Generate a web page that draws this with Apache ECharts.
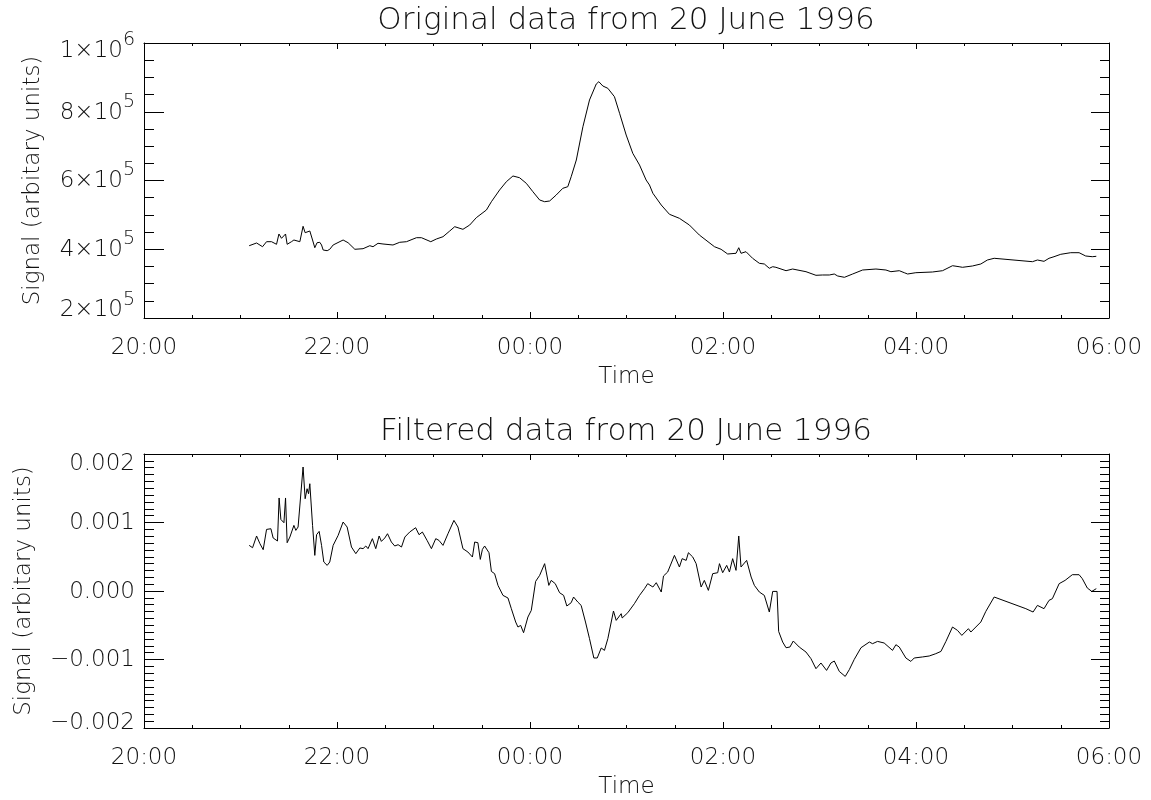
<!DOCTYPE html>
<html>
<head>
<meta charset="utf-8">
<script src="https://cdn.jsdelivr.net/npm/echarts@6/dist/echarts.min.js"></script>
<style>html,body{margin:0;padding:0;background:#fff}#c{width:1151px;height:800px}</style>
</head>
<body>
<div id="c"></div>
<script>
// Time axis: minutes after 20:00 on 20 June 1996
const xTickLabels = ['20:00', '22:00', '00:00', '02:00', '04:00', '06:00'];

const timesTop = [65.4,70.0,73.7,76.2,79.3,82.4,83.9,85.5,86.5,88.0,
89.0,91.7,93.2,94.4,96.9,98.9,100.2,101.4,103.1,104.8,
106.2,107.6,109.3,110.4,111.4,113.9,115.5,117.6,123.8,126.9,
131.1,136.2,140.4,142.4,145.5,148.6,154.8,159.0,163.2,169.4,
172.5,178.3,181.8,185.9,190.1,193.2,198.3,202.5,206.6,212.9,
216.0,221.1,225.3,229.4,233.5,237.7,241.8,246.0,249.1,252.2,
256.3,260.4,263.5,265.6,268.8,272.9,277.0,281.2,282.8,285.3,
288.4,292.5,295.7,299.8,303.9,308.1,312.2,314.3,316.4,321.6,
326.7,332.9,339.1,345.3,354.7,358.8,362.9,368.1,369.8,371.2,
374.3,378.4,382.6,385.7,388.8,390.9,392.9,399.2,403.3,411.6,
417.8,421.9,426.1,429.2,431.3,435.5,440.6,446.8,455.1,461.3,
464.4,469.6,472.7,474.8,479.9,490.2,496.5,502.7,506.8,508.9,
515.1,520.3,524.4,528.6,552.4,555.5,559.6,562.7,565.8,570.0,
576.2,581.4,585.5,589.6,592.1];

const signalTop = [410300,418200,407400,422000,422000,414400,444400,431800,429800,444400,
414400,422000,426900,422000,422000,466800,448100,453100,453100,426900,
404500,419000,420200,412400,397800,395800,399900,412400,426900,419000,
399900,401600,410300,407400,417300,415300,412400,420200,422000,433600,
433600,422000,429800,436500,453100,465600,458000,470500,491800,514200,
538300,572400,596500,613100,608100,591800,567400,543300,538300,540400,
557800,577300,582000,611000,659600,756500,834200,880700,887400,874900,
868200,843800,795500,732300,679100,645100,601400,586900,562800,528700,
501700,490000,470500,441400,407400,399900,386200,388200,404500,388200,
392900,373700,359100,357100,344600,349200,347500,337600,342500,334700,
324200,325100,325100,328000,322200,318400,328000,339600,342500,339600,
334700,337600,331800,328000,331800,333800,337600,352100,349200,347500,
351300,357100,368700,373700,363800,368700,364900,373700,378300,385300,
390000,390000,380400,378300,379500];

const timesFilt = [65.4,67.5,70.0,72.1,74.1,76.2,78.9,80.3,83.0,84.0,
85.1,87.0,88.0,89.0,90.7,93.2,94.4,95.8,96.9,98.9,
100.2,101.4,102.3,103.1,104.8,106.2,107.3,108.9,110.4,111.8,
113.9,115.5,117.6,120.7,123.8,126.3,129.0,131.7,134.2,136.2,
137.9,139.3,142.0,144.1,146.2,147.6,149.7,151.4,153.8,155.9,
158.0,160.1,162.2,165.2,168.9,171.0,173.1,176.0,178.7,181.4,
183.4,185.9,189.0,192.7,195.2,198.3,201.4,204.2,205.6,207.6,
209.1,210.4,211.8,214.5,216.0,218.0,220.1,223.2,226.3,228.4,
231.1,232.5,234.2,236.0,238.7,240.8,243.5,246.0,249.1,251.7,
253.2,255.7,258.4,260.9,262.9,265.6,267.1,269.7,271.8,274.5,
277.0,279.7,281.8,284.3,286.3,288.4,291.9,293.6,296.7,297.3,
300.8,304.9,308.1,311.2,313.2,316.4,318.5,321.6,323.0,325.6,
329.8,332.9,334.6,337.1,338.5,341.2,343.3,346.4,348.4,350.9,
353.6,356.7,357.8,359.8,362.3,364.0,366.0,368.1,369.8,371.2,
374.7,377.5,379.5,382.6,385.7,388.8,390.9,393.6,394.6,397.1,
399.2,401.6,403.7,407.4,411.6,414.7,417.8,420.9,424.4,427.1,
429.2,432.3,436.0,438.5,441.6,445.8,451.0,453.0,456.1,460.2,
465.4,467.5,469.6,473.7,476.8,478.9,484.0,488.2,492.3,495.5,
498.6,502.7,505.8,508.5,512.6,514.1,517.2,520.3,523.4,528.6,
548.3,552.8,555.5,559.6,562.7,564.8,569.0,572.7,577.2,581.4,
583.4,586.5,589.3,592.1];

const signalFilt = [0.000666,0.000632,0.000803,0.000690,0.000603,0.000899,0.000909,0.000774,0.000730,0.001358,
0.001045,0.000997,0.001358,0.000705,0.000788,0.000958,0.000885,0.000934,0.000909,0.001810,
0.001347,0.001493,0.001420,0.001566,0.000958,0.000520,0.000822,0.000870,0.000666,0.000423,
0.000374,0.000423,0.000666,0.000812,0.001007,0.000934,0.000642,0.000545,0.000628,0.000618,
0.000657,0.000618,0.000764,0.000618,0.000803,0.000724,0.000774,0.000836,0.000715,0.000657,
0.000676,0.000642,0.000788,0.000861,0.000924,0.000822,0.000861,0.000739,0.000618,0.000764,
0.000739,0.000666,0.000836,0.001031,0.000934,0.000618,0.000569,0.000496,0.000715,0.000705,
0.000461,0.000607,0.000657,0.000559,0.000286,0.000253,0.000082,-0.000064,-0.000102,-0.000258,
-0.000453,-0.000526,-0.000502,-0.000609,-0.000380,-0.000283,0.000140,0.000228,0.000399,0.000082,
0.000155,0.000107,-0.000025,-0.000064,-0.000219,-0.000171,-0.000088,-0.000161,-0.000210,-0.000453,
-0.000696,-0.000978,-0.000978,-0.000832,-0.000867,-0.000696,-0.000292,-0.000429,-0.000331,-0.000394,
-0.000317,-0.000185,-0.000064,0.000034,0.000107,0.000058,0.000121,-0.000015,0.000219,0.000277,
0.000520,0.000350,0.000472,0.000447,0.000559,0.000496,0.000399,0.000058,0.000155,0.000009,
0.000253,0.000267,0.000399,0.000267,0.000374,0.000277,0.000472,0.000301,0.000803,0.000350,
0.000447,0.000204,0.000082,-0.000015,-0.000064,-0.000307,-0.000006,-0.000006,-0.000590,-0.000745,
-0.000828,-0.000818,-0.000730,-0.000818,-0.000891,-0.000988,-0.001134,-0.001051,-0.001159,-0.001051,
-0.001022,-0.001174,-0.001247,-0.001149,-0.000999,-0.000828,-0.000745,-0.000769,-0.000736,-0.000759,
-0.000867,-0.000784,-0.000818,-0.000978,-0.001028,-0.000978,-0.000963,-0.000949,-0.000915,-0.000882,
-0.000736,-0.000526,-0.000575,-0.000648,-0.000550,-0.000599,-0.000526,-0.000453,-0.000298,-0.000088,
-0.000258,-0.000307,-0.000210,-0.000258,-0.000137,-0.000112,0.000107,0.000155,0.000238,0.000238,
0.000180,0.000044,-0.000006,0.000034];

const titleTop = 'Original data from 20 June 1996';
const titleBottom = 'Filtered data from 20 June 1996';
const xName = 'Time';
const yName = 'Signal (arbitary units)';

const FONT = 'DejaVu Sans';
const FW = 200;
const TXT = '#111';

const topRange = {min: 200000, max: 1000000, interval: 200000};
const botRange = {min: -0.002, max: 0.002, interval: 0.001};

function zip(a, b) { return a.map((t, i) => [t, b[i]]); }

function xLabel(v) { return xTickLabels[Math.round(v / 120)] || ''; }

function topYLabel(v) {
  const e = Math.floor(Math.log10(v) + 1e-9);
  const m = Math.round(v / Math.pow(10, e));
  let mk = 'm', ek = 'e';
  if (v >= topRange.max - 1) { mk = 'mT'; ek = 'eT'; }
  else if (v <= topRange.min + 1) { mk = 'mB'; ek = 'eB'; }
  return '{' + mk + '|' + m + '×10}{' + ek + '|' + e + '}';
}
function botYLabel(v) {
  let s = v.toFixed(3);
  if (s === '-0.000') s = '0.000';
  s = s.replace('-', '\u2212');
  let k = 'n';
  if (v >= botRange.max - 1e-9) k = 'nT';
  else if (v <= botRange.min + 1e-9) k = 'nB';
  return '{' + k + '|' + s + '}';
}

const base = {fontFamily: FONT, fontWeight: FW, color: TXT};
const richTop = {
  m: Object.assign({fontSize: 23, padding: [2, 0, 0, 0], verticalAlign: 'middle'}, base),
  e: Object.assign({fontSize: 19, padding: [0, 0, 20, 0], verticalAlign: 'middle'}, base),
  mT: Object.assign({fontSize: 23, padding: [16, 0, 0, 0], verticalAlign: 'middle'}, base),
  eT: Object.assign({fontSize: 19, padding: [0, 0, 5, 0], verticalAlign: 'middle'}, base),
  mB: Object.assign({fontSize: 23, padding: [0, 0, 15, 0], verticalAlign: 'middle'}, base),
  eB: Object.assign({fontSize: 19, padding: [0, 0, 35, 0], verticalAlign: 'middle'}, base)
};
const richBot = {
  n: Object.assign({fontSize: 23, padding: [2, 0, 0, 0], verticalAlign: 'middle'}, base),
  nT: Object.assign({fontSize: 23, padding: [21, 0, 0, 0], verticalAlign: 'middle'}, base),
  nB: Object.assign({fontSize: 23, padding: [0, 0, 10, 0], verticalAlign: 'middle'}, base)
};

const lineBlack = {color: '#000', width: 1};

function xAxes(gridIndex) {
  const common = {
    type: 'value', gridIndex: gridIndex, min: 0, max: 600, interval: 120,
    axisLine: {show: true, onZero: false, lineStyle: lineBlack},
    axisTick: {show: true, inside: true, length: 6, lineStyle: lineBlack},
    minorTick: {show: true, splitNumber: 4, length: 3, lineStyle: lineBlack},
    splitLine: {show: false}
  };
  return [
    Object.assign({}, common, {
      position: 'bottom',
      name: xName, nameLocation: 'middle', nameGap: 48,
      nameTextStyle: Object.assign({fontSize: 23}, base),
      axisLabel: Object.assign({show: true, margin: 19, fontSize: 23, formatter: xLabel}, base)
    }),
    Object.assign({}, common, {position: 'top', axisLabel: {show: false}})
  ];
}

function yAxes(gridIndex, range, minorSplit, formatter, rich, nameGap) {
  const common = {
    type: 'value', gridIndex: gridIndex, min: range.min, max: range.max, interval: range.interval,
    axisLine: {show: true, onZero: false, lineStyle: lineBlack},
    minorTick: {show: true, splitNumber: minorSplit, length: 10, lineStyle: lineBlack},
    splitLine: {show: false}
  };
  return [
    Object.assign({}, common, {
      position: 'left',
      axisTick: {show: true, inside: true, length: 20, lineStyle: lineBlack},
      name: yName, nameLocation: 'middle', nameGap: nameGap,
      nameTextStyle: Object.assign({fontSize: 23}, base),
      axisLabel: {show: true, margin: 9, formatter: formatter, rich: rich, fontSize: 23, fontFamily: FONT, color: TXT}
    }),
    Object.assign({}, common, {
      position: 'right',
      axisTick: {show: true, inside: true, length: 18, lineStyle: lineBlack},
      minorTick: {show: true, splitNumber: minorSplit, length: 9, lineStyle: lineBlack},
      axisLabel: {show: false}
    })
  ];
}

const chart = echarts.init(document.getElementById('c'), null, {renderer: 'canvas'});
chart.setOption({
  backgroundColor: '#fff',
  animation: false,
  title: [
    {text: titleTop, left: 621, top: 0, textAlign: 'center',
     textStyle: Object.assign({fontSize: 31}, base, {fontWeight: FW})},
    {text: titleBottom, left: 621, top: 411, textAlign: 'center',
     textStyle: Object.assign({fontSize: 31}, base, {fontWeight: FW})}
  ],
  grid: [
    {left: 144, top: 43, width: 965, height: 275, containLabel: false},
    {left: 144, top: 454, width: 965, height: 275, containLabel: false}
  ],
  xAxis: xAxes(0).concat(xAxes(1)),
  yAxis: yAxes(0, topRange, 4, topYLabel, richTop, 99)
    .concat(yAxes(1, botRange, 10, botYLabel, richBot, 108)),
  series: [
    {type: 'line', xAxisIndex: 0, yAxisIndex: 0, data: zip(timesTop, signalTop),
     showSymbol: false, symbol: 'none', lineStyle: {color: '#000', width: 1}, silent: true},
    {type: 'line', xAxisIndex: 2, yAxisIndex: 2, data: zip(timesFilt, signalFilt),
     showSymbol: false, symbol: 'none', lineStyle: {color: '#000', width: 1}, silent: true}
  ]
});
</script>
</body>
</html>
